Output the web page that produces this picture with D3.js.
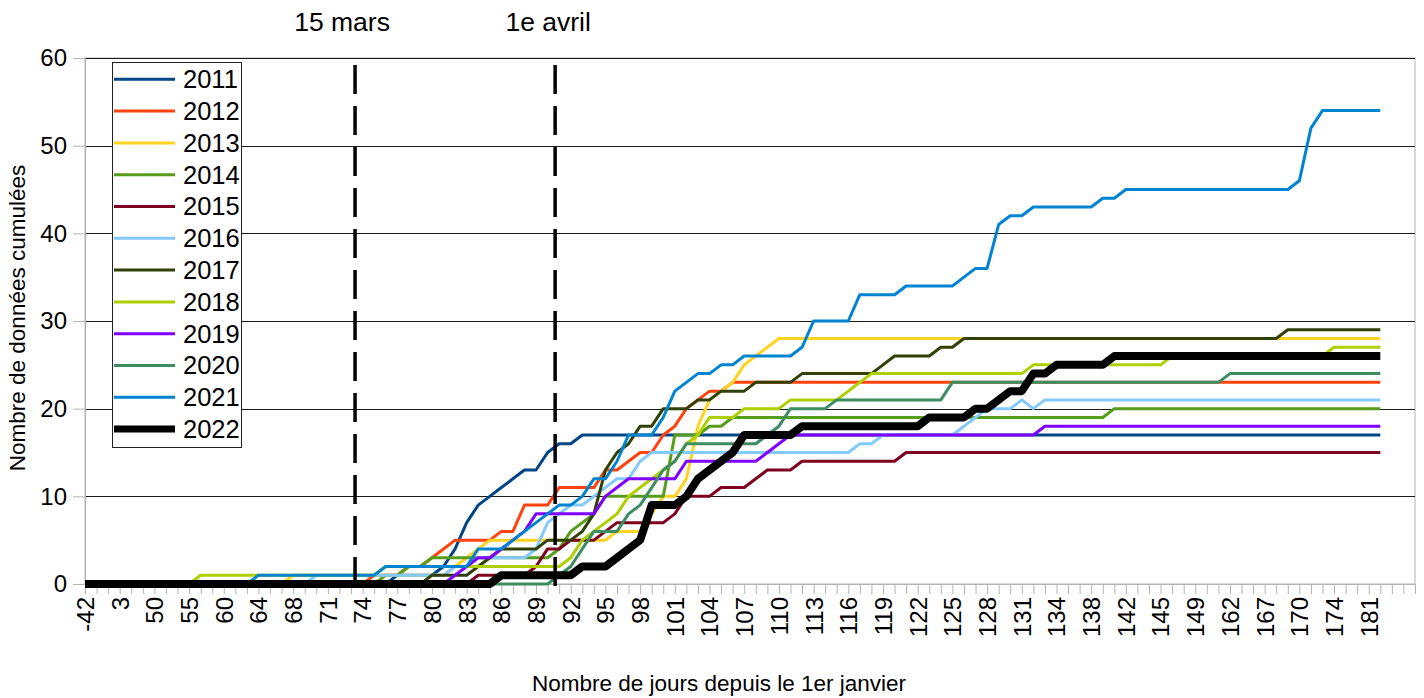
<!DOCTYPE html>
<html><head><meta charset="utf-8">
<script src="https://cdn.jsdelivr.net/npm/d3@7"></script>
<style>
html,body{margin:0;padding:0;background:#fff;}
svg{display:block;font-family:"Liberation Sans",Arial,sans-serif;}
</style></head><body>
<svg id="chart" width="1424" height="698"></svg>
<script>
// ---------- DATA ----------
const categories = ["-42","-30","-5","3","20","35","50","52","54","55",
"57","58","60","61","62","64","65","67","68","69",
"70","71","72","73","74","75","76","77","78","79",
"80","81","82","83","84","85","86","87","88","89",
"90","91","92","93","94","95","96","97","98","99",
"100","101","102","103","104","105","106","107","108","109",
"110","111","112","113","114","115","116","117","118","119",
"120","121","122","123","124","125","126","127","128","129",
"130","131","132","133","134","135","136","138","139","140",
"142","143","144","145","146","147","149","151","157","162",
"164","165","167","168","169","170","171","172","174","176",
"178","181","182","","",""];

const years = ["2011","2012","2013","2014","2015","2016","2017","2018","2019","2020","2021","2022"];
const colors = ["#004586","#ff420e","#ffd320","#579d1c","#7e0021","#83caff","#314004","#aecf00","#7f00ff","#3c8d61","#0084d1","#000000"];

const s2011 = [0,0,0,0,0,0,0,0,0,0,
 0,0,0,0,0,0,0,0,0,0,
 0,0,0,0,0,0,0,1,1,1,
 1,2,4,7,9,10,11,12,13,13,
 15,16,16,17,17,17,17,17,17,17,
 17,17,17,17,17,17,17,17,17,17,
 17,17,17,17,17,17,17,17,17,17,
 17,17,17,17,17,17,17,17,17,17,
 17,17,17,17,17,17,17,17,17,17,
 17,17,17,17,17,17,17,17,17,17,
 17,17,17,17,17,17,17,17,17,17,
 17,17,17];
const s2012 = [0,0,0,0,0,0,0,0,0,0,
 0,0,0,0,0,0,0,0,0,0,
 0,0,0,0,0,1,1,1,2,2,
 3,4,5,5,5,5,6,6,9,9,
 9,11,11,11,11,13,13,14,15,15,
 17,18,20,21,22,22,23,23,23,23,
 23,23,23,23,23,23,23,23,23,23,
 23,23,23,23,23,23,23,23,23,23,
 23,23,23,23,23,23,23,23,23,23,
 23,23,23,23,23,23,23,23,23,23,
 23,23,23,23,23,23,23,23,23,23,
 23,23,23];
const s2013 = [0,0,0,0,0,0,0,0,0,0,
 0,0,0,0,0,0,0,0,1,1,
 1,1,1,1,1,1,1,1,1,1,
 1,1,2,3,4,5,5,5,5,5,
 5,5,5,5,5,5,6,6,6,8,
 10,10,12,18,21,22,23,25,26,27,
 28,28,28,28,28,28,28,28,28,28,
 28,28,28,28,28,28,28,28,28,28,
 28,28,28,28,28,28,28,28,28,28,
 28,28,28,28,28,28,28,28,28,28,
 28,28,28,28,28,28,28,28,28,28,
 28,28,28];
const s2014 = [0,0,0,0,0,0,0,0,0,0,
 0,0,0,0,0,0,0,0,0,0,
 0,0,0,0,0,0,1,1,2,2,
 3,3,3,3,3,3,3,3,3,3,
 3,4,6,7,8,10,10,10,10,10,
 10,17,17,17,18,18,19,19,19,19,
 19,19,19,19,19,19,19,19,19,19,
 19,19,19,19,19,19,19,19,19,19,
 19,19,19,19,19,19,19,19,19,20,
 20,20,20,20,20,20,20,20,20,20,
 20,20,20,20,20,20,20,20,20,20,
 20,20,20];
const s2015 = [0,0,0,0,0,0,0,0,0,0,
 0,0,0,0,0,0,0,0,0,0,
 0,0,0,0,0,0,0,0,0,0,
 0,0,0,0,1,1,1,1,1,2,
 4,4,5,5,5,6,7,7,7,7,
 7,8,10,10,10,11,11,11,12,13,
 13,13,14,14,14,14,14,14,14,14,
 14,15,15,15,15,15,15,15,15,15,
 15,15,15,15,15,15,15,15,15,15,
 15,15,15,15,15,15,15,15,15,15,
 15,15,15,15,15,15,15,15,15,15,
 15,15,15];
const s2016 = [0,0,0,0,0,0,0,0,0,0,
 0,0,0,0,0,0,0,0,0,0,
 1,1,1,1,1,1,1,1,1,1,
 1,1,2,2,3,3,3,3,3,4,
 7,8,9,9,10,11,12,12,14,15,
 15,15,15,15,15,15,15,15,15,15,
 15,15,15,15,15,15,15,16,16,17,
 17,17,17,17,17,17,18,19,20,20,
 20,21,20,21,21,21,21,21,21,21,
 21,21,21,21,21,21,21,21,21,21,
 21,21,21,21,21,21,21,21,21,21,
 21,21,21];
const s2017 = [0,0,0,0,0,0,0,0,0,0,
 0,0,0,0,0,0,0,0,0,0,
 0,0,0,0,0,0,0,0,0,0,
 1,1,1,1,2,3,4,4,4,4,
 5,5,5,6,8,13,15,16,18,18,
 20,20,20,21,21,22,22,22,23,23,
 23,23,24,24,24,24,24,24,24,25,
 26,26,26,26,27,27,28,28,28,28,
 28,28,28,28,28,28,28,28,28,28,
 28,28,28,28,28,28,28,28,28,28,
 28,28,28,28,29,29,29,29,29,29,
 29,29,29];
const s2018 = [0,0,0,0,0,0,0,0,0,0,
 1,1,1,1,1,1,1,1,1,1,
 1,1,1,1,1,1,2,2,2,2,
 2,2,2,2,2,2,2,2,2,2,
 2,2,3,5,6,7,8,10,11,12,
 13,14,16,17,19,19,19,20,20,20,
 20,21,21,21,21,21,22,23,24,24,
 24,24,24,24,24,24,24,24,24,24,
 24,24,25,25,25,25,25,25,25,25,
 25,25,25,25,26,26,26,26,26,26,
 26,26,26,26,26,26,26,26,27,27,
 27,27,27];
const s2019 = [0,0,0,0,0,0,0,0,0,0,
 0,0,0,0,0,0,0,0,0,0,
 0,0,0,0,0,0,0,0,0,0,
 0,0,1,2,3,3,4,5,6,8,
 8,8,8,8,8,10,11,12,12,12,
 12,12,14,14,14,14,14,14,14,15,
 16,17,17,17,17,17,17,17,17,17,
 17,17,17,17,17,17,17,17,17,17,
 17,17,17,18,18,18,18,18,18,18,
 18,18,18,18,18,18,18,18,18,18,
 18,18,18,18,18,18,18,18,18,18,
 18,18,18];
const s2020 = [0,0,0,0,0,0,0,0,0,0,
 0,0,0,0,0,0,0,0,0,0,
 0,0,0,0,0,0,0,0,0,0,
 0,0,0,0,0,0,0,0,0,0,
 0,1,2,4,6,6,6,8,9,11,
 13,14,16,16,16,16,16,16,16,17,
 18,20,20,20,20,21,21,21,21,21,
 21,21,21,21,21,23,23,23,23,23,
 23,23,23,23,23,23,23,23,23,23,
 23,23,23,23,23,23,23,23,23,24,
 24,24,24,24,24,24,24,24,24,24,
 24,24,24];
const s2021 = [0,0,0,0,0,0,0,0,0,0,
 0,0,0,0,0,1,1,1,1,1,
 1,1,1,1,1,1,2,2,2,2,
 2,2,2,2,4,4,4,5,6,7,
 8,9,9,10,12,12,14,17,17,17,
 19,22,23,24,24,25,25,26,26,26,
 26,26,27,30,30,30,30,33,33,33,
 33,34,34,34,34,34,35,36,36,41,
 42,42,43,43,43,43,43,43,44,44,
 45,45,45,45,45,45,45,45,45,45,
 45,45,45,45,45,46,52,54,54,54,
 54,54,54];
const s2022 = [0,0,0,0,0,0,0,0,0,0,
 0,0,0,0,0,0,0,0,0,0,
 0,0,0,0,0,0,0,0,0,0,
 0,0,0,0,0,0,1,1,1,1,
 1,1,1,2,2,2,3,4,5,9,
 9,9,10,12,13,14,15,17,17,17,
 17,17,18,18,18,18,18,18,18,18,
 18,18,18,19,19,19,19,20,20,21,
 22,22,24,24,25,25,25,25,25,26,
 26,26,26,26,26,26,26,26,26,26,
 26,26,26,26,26,26,26,26,26,26,
 26,26,26];

const seriesValues = [s2011,s2012,s2013,s2014,s2015,s2016,s2017,s2018,s2019,s2020,s2021,s2022];
const yTicks = [0,10,20,30,40,50,60];
const markerPos = [23.35, 40.65];          // category index of hand-drawn markers
const markerLabels = ["15 mars","1e avril"];
const xTitle = "Nombre de jours depuis le 1er janvier";
const yTitle = "Nombre de données cumulées";

// ---------- CHART ----------
const svg = d3.select("#chart");
const P = {left:85, right:1415, top:58, bottom:584};
const x = d3.scaleLinear().domain([0, categories.length-1]).range([P.left, P.right]);
const y = d3.scaleLinear().domain([0, 60]).range([P.bottom, P.top]);
const FONT = '"Liberation Sans", Arial, sans-serif';

// plot frame (light grey)
svg.append("rect").attr("x",P.left).attr("y",P.top).attr("width",P.right-P.left).attr("height",P.bottom-P.top)
  .attr("fill","none").attr("stroke","#b3b3b3").attr("stroke-width",1);

// gridlines
svg.append("g").selectAll("line").data(yTicks.filter(v=>v>0)).join("line")
  .attr("x1",P.left).attr("x2",P.right)
  .attr("y1",d=>Math.round(y(d))+0.5).attr("y2",d=>Math.round(y(d))+0.5)
  .attr("stroke","#1a1a1a").attr("stroke-width",1);

// y axis
const yAxis = svg.append("g").attr("transform",`translate(${P.left},0)`)
  .call(d3.axisLeft(y).tickValues(yTicks).tickSize(12).tickPadding(6));
yAxis.select(".domain").attr("stroke","#b3b3b3");
yAxis.selectAll(".tick line").attr("stroke","#b3b3b3");
yAxis.selectAll("text").attr("font-family",FONT).attr("font-size",24).attr("fill","#000");

// x axis
const xAxis = svg.append("g").attr("transform",`translate(0,${P.bottom})`)
  .call(d3.axisBottom(x).tickValues(d3.range(categories.length)).tickSize(10)
        .tickFormat(i => (i % 3 === 0 ? categories[i] : "")));
xAxis.select(".domain").attr("stroke","#b3b3b3");
xAxis.selectAll(".tick line").attr("stroke","#b3b3b3");
xAxis.selectAll("text").attr("font-family",FONT).attr("font-size",24).attr("fill","#000")
  .attr("transform","rotate(-90)").attr("x",-13).attr("y",0).attr("dy","0.35em")
  .attr("text-anchor","end");

// series
const line = d3.line().x((d,i)=>x(i)).y(d=>y(d));
svg.append("g").selectAll("path").data(seriesValues).join("path")
  .attr("d", d=>line(d))
  .attr("fill","none")
  .attr("stroke",(d,i)=>colors[i])
  .attr("stroke-width",(d,i)=> i===seriesValues.length-1 ? 8 : 3)
  .attr("stroke-linejoin","round");

// marker dashed lines
svg.append("g").selectAll("line").data(markerPos).join("line")
  .attr("x1",d=>x(d)).attr("x2",d=>x(d))
  .attr("y1",y(59.2)).attr("y2",y(-1))
  .attr("stroke","#000").attr("stroke-width",3.5).attr("stroke-dasharray","29,12");
svg.append("g").selectAll("text").data(markerLabels).join("text")
  .attr("x",(d,i)=>x(markerPos[i]) + (i===0 ? -13 : -7))
  .attr("y",31).attr("text-anchor","middle")
  .attr("font-family",FONT).attr("font-size",26.5).attr("fill","#000")
  .text(d=>d);

// legend
const lg = svg.append("g");
lg.append("rect").attr("x",112.5).attr("y",62.5).attr("width",129).attr("height",385)
  .attr("fill","#fff").attr("stroke","#222").attr("stroke-width",1);
const rowY = i => 79.3 + i*31.8;
lg.selectAll("line.lgl").data(years).join("line").attr("class","lgl")
  .attr("x1",114).attr("x2",175).attr("y1",(d,i)=>rowY(i)).attr("y2",(d,i)=>rowY(i))
  .attr("stroke",(d,i)=>colors[i]).attr("stroke-width",(d,i)=> i===years.length-1 ? 7 : 3);
lg.selectAll("text").data(years).join("text")
  .attr("x",183).attr("y",(d,i)=>rowY(i)).attr("dy","0.35em")
  .attr("font-family",FONT).attr("font-size",25.5).attr("fill","#000").text(d=>d);

// axis titles
svg.append("text").attr("x",719).attr("y",691).attr("text-anchor","middle")
  .attr("font-family",FONT).attr("font-size",22.5).text(xTitle);
svg.append("text").attr("transform","translate(25,318) rotate(-90)").attr("text-anchor","middle")
  .attr("font-family",FONT).attr("font-size",22.5).text(yTitle);
</script>
</body></html>
